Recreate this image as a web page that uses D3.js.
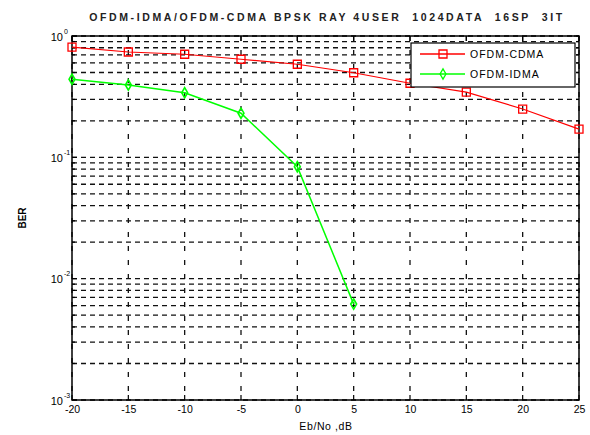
<!DOCTYPE html>
<html><head><meta charset="utf-8">
<script src="https://cdn.jsdelivr.net/npm/d3@7"></script>
<style>body{margin:0;background:#fff}svg{display:block}text{font-family:"Liberation Sans",Arial,sans-serif}</style>
</head><body><svg id="c" width="590" height="435"></svg>
<script>
const ebno = [-20,-15,-10,-5,0,5,10,15,20,25];
const berCDMA = [0.811,0.738,0.707,0.643,0.585,0.498,0.408,0.345,0.250,0.171];
const ebnoIDMA = [-20,-15,-10,-5,0,5];
const berIDMA = [0.440,0.395,0.341,0.231,0.0837,0.00617];
const xTicks = [-20,-15,-10,-5,0,5,10,15,20,25];
const yExps = [0,-1,-2,-3];
const titleText = "OFDM-IDMA/OFDM-CDMA BPSK RAY 4USER  1024DATA  16SP  3IT";
const xLabel = "Eb/No ,dB", yLabel = "BER";
const legendNames = ["OFDM-CDMA","OFDM-IDMA"];

const svg = d3.select("#c");
const L=72,R=579,T=36,B=400;
const x = d3.scaleLinear().domain([-20,25]).range([L,R]);
const y = d3.scaleLog().domain([1e-3,1]).range([B,T]);

// grid
const g = svg.append("g");
const minor = [];
for (let e=-3;e<0;e++) for (let m=1;m<10;m++) minor.push(m*Math.pow(10,e));
minor.push(1);
g.selectAll(".hg").data(minor).enter().append("line")
 .attr("x1",L).attr("x2",R).attr("y1",d=>y(d)).attr("y2",d=>y(d))
 .attr("stroke","#111").attr("stroke-width",1.3).attr("stroke-dasharray","5,4");
g.selectAll(".vg").data(xTicks).enter().append("line")
 .attr("y1",T).attr("y2",B).attr("x1",d=>x(d)).attr("x2",d=>x(d))
 .attr("stroke","#111").attr("stroke-width",1.3).attr("stroke-dasharray","5,9");

// ticks (inside)
const tk = svg.append("g").attr("stroke","#000").attr("stroke-width",1.2);
xTicks.forEach(v=>{
  tk.append("line").attr("x1",x(v)).attr("x2",x(v)).attr("y1",B).attr("y2",B-5);
  tk.append("line").attr("x1",x(v)).attr("x2",x(v)).attr("y1",T).attr("y2",T+5);
});
minor.forEach(v=>{
  const len = Math.abs(Math.log10(v)-Math.round(Math.log10(v)))<1e-9?5:3;
  tk.append("line").attr("x1",L).attr("x2",L+len).attr("y1",y(v)).attr("y2",y(v));
  tk.append("line").attr("x1",R).attr("x2",R-len).attr("y1",y(v)).attr("y2",y(v));
});

// axes labels via d3 axes (no domain lines)
const xa = svg.append("g").attr("transform",`translate(0,${B})`)
 .call(d3.axisBottom(x).tickValues(xTicks).tickSize(0).tickPadding(6).tickFormat(d=>d));
xa.select(".domain").remove();
xa.selectAll("text").attr("font-size",10.5).attr("fill","#000").attr("font-family","Liberation Sans, Arial");

const ya = svg.append("g").attr("transform",`translate(${L},0)`)
 .call(d3.axisLeft(y).tickValues(yExps.map(e=>Math.pow(10,e))).tickSize(0).tickFormat(""));
ya.select(".domain").remove();
ya.selectAll(".tick").each(function(d){
  const t = d3.select(this).append("text").attr("x",-9).attr("y",4).attr("text-anchor","end")
   .attr("font-size",11).attr("fill","#000");
  t.append("tspan").text("10");
  const e = Math.round(Math.log10(d));
  d3.select(this).append("text").attr("x",-8).attr("y",-3).attr("text-anchor","start")
   .attr("font-size",7).attr("fill","#000").text(e);
});

// frame
svg.append("rect").attr("x",L).attr("y",T).attr("width",R-L).attr("height",B-T)
 .attr("fill","none").attr("stroke","#000").attr("stroke-width",1.5);

// series
const line = d3.line().x(d=>x(d[0])).y(d=>y(d[1]));
const cd = ebno.map((v,i)=>[v,berCDMA[i]]);
const id = ebnoIDMA.map((v,i)=>[v,berIDMA[i]]);
svg.append("path").datum(cd).attr("d",line).attr("fill","none").attr("stroke","#ff0000").attr("stroke-width",1.2);
svg.append("path").datum(id).attr("d",line).attr("fill","none").attr("stroke","#00ff00").attr("stroke-width",1.5);
const sq = d3.symbol().type(d3.symbolSquare).size(64);
const dm = d3.symbol().type(d3.symbolDiamond).size(30);
svg.selectAll(".sq").data(cd).enter().append("path").attr("d",sq)
 .attr("transform",d=>`translate(${x(d[0])},${y(d[1])})`).attr("fill","none").attr("stroke","#ff0000").attr("stroke-width",1.3);
svg.selectAll(".dm").data(id).enter().append("path").attr("d",dm)
 .attr("transform",d=>`translate(${x(d[0])},${y(d[1])})`).attr("fill","none").attr("stroke","#00ff00").attr("stroke-width",1.6);

// legend
const lg = svg.append("g");
lg.append("rect").attr("x",411).attr("y",43).attr("width",164).attr("height",44)
 .attr("fill","#fff").attr("stroke","#000").attr("stroke-width",1.2);
const cols=["#ff0000","#00ff00"], syms=[sq,dm];
legendNames.forEach((n,i)=>{
  const yy = 54+i*20;
  lg.append("line").attr("x1",420).attr("x2",465).attr("y1",yy).attr("y2",yy).attr("stroke",cols[i]).attr("stroke-width",1.3);
  lg.append("path").attr("d",syms[i]).attr("transform",`translate(443,${yy})`).attr("fill","none").attr("stroke",cols[i]).attr("stroke-width",1.3);
  lg.append("text").attr("x",470).attr("y",yy+4).attr("font-size",10.5).attr("letter-spacing",1).text(n);
});

// title & labels
svg.append("text").attr("x",327).attr("y",21).attr("text-anchor","middle").attr("font-size",10.5)
 .attr("font-weight","bold").attr("letter-spacing",2.6).attr("fill","#222").style("white-space","pre").text(titleText);
svg.append("text").attr("x",326).attr("y",430).attr("text-anchor","middle").attr("font-size",10.5).attr("letter-spacing",0.6).text(xLabel);
svg.append("text").attr("transform","translate(26,218) rotate(-90)").attr("text-anchor","middle").attr("font-size",10).attr("font-weight","bold").text(yLabel);
</script></body></html>
